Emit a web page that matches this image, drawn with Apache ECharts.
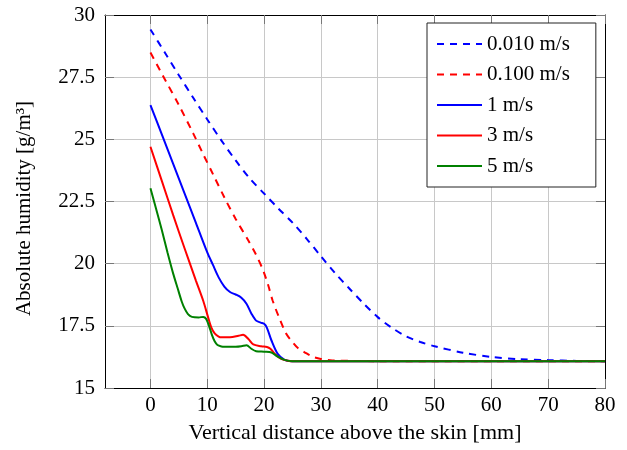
<!DOCTYPE html>
<html>
<head>
<meta charset="utf-8">
<script src="https://cdn.jsdelivr.net/npm/echarts@6/dist/echarts.min.js"></script>
<style>
  html, body { margin: 0; padding: 0; background: #ffffff; }
  #chart { width: 627px; height: 450px; }
</style>
</head>
<body>
<div id="chart"></div>
<script>
// Axis ticks
const xTicks = [0, 10, 20, 30, 40, 50, 60, 70, 80];
const yTicks = [15, 17.5, 20, 22.5, 25, 27.5, 30];

// Legend labels (air velocity)
const seriesNames = ['0.010 m/s', '0.100 m/s', '1 m/s', '3 m/s', '5 m/s'];

// 0.010 m/s
const dist010 = [0, 2.5, 5, 7.5, 10, 12.5, 15, 17.5, 20, 22.5, 25, 27.5, 30, 32.5, 35, 37.5, 40, 42.5, 45, 47.5, 50, 55, 60, 65, 70, 75, 80];
const hum010 = [29.42, 28.5, 27.58, 26.68, 25.8, 24.95, 24.15, 23.42, 22.82, 22.22, 21.65, 21.0, 20.3, 19.62, 19.0, 18.4, 17.85, 17.42, 17.08, 16.85, 16.68, 16.42, 16.25, 16.16, 16.12, 16.09, 16.08];

// 0.100 m/s
const dist100 = [0, 2.5, 5, 7.5, 9.2, 11, 13.1, 15, 17.2, 18.5, 19.8, 20.7, 21.5, 22.7, 23.9, 25, 26, 27.4, 28.5, 30, 32, 35, 40, 80];
const hum100 = [28.49, 27.43, 26.38, 25.25, 24.44, 23.6, 22.62, 21.8, 20.94, 20.4, 19.75, 19.15, 18.52, 17.8, 17.18, 16.85, 16.6, 16.4, 16.26, 16.17, 16.11, 16.09, 16.08, 16.08];

// 1 m/s
const dist1 = [0, 2, 4, 6, 8, 10, 11, 12, 13, 14, 15, 16, 16.9, 17.8, 18.6, 19.4, 20, 20.5, 21.3, 22.4, 23.6, 24.8, 30, 80];
const hum1 = [26.38, 25.2, 24.01, 22.83, 21.64, 20.45, 19.95, 19.45, 19.08, 18.86, 18.76, 18.63, 18.39, 17.98, 17.71, 17.63, 17.58, 17.42, 16.91, 16.37, 16.13, 16.08, 16.08, 16.08];

// 3 m/s
const dist3 = [0, 2, 4, 6, 8, 9.3, 10.1, 10.7, 11.3, 12, 12.5, 14, 15.5, 16.3, 17.2, 18.1, 19.5, 20.5, 21.1, 21.9, 23, 24.2, 25, 30, 80];
const hum3 = [24.7, 23.33, 21.95, 20.62, 19.32, 18.5, 17.88, 17.44, 17.2, 17.07, 17.04, 17.04, 17.1, 17.14, 16.98, 16.75, 16.68, 16.65, 16.58, 16.37, 16.17, 16.1, 16.08, 16.08, 16.08];

// 5 m/s
const dist5 = [0, 1, 2, 3, 4, 4.8, 5.5, 6, 6.6, 7.3, 8.5, 9.3, 9.8, 10.3, 10.8, 11.3, 11.8, 12.5, 13, 15, 16, 16.9, 17.8, 18.6, 20, 21.3, 22.4, 23.6, 25, 30, 80];
const hum5 = [23.03, 22.2, 21.35, 20.45, 19.6, 19.0, 18.48, 18.2, 17.97, 17.86, 17.84, 17.86, 17.78, 17.5, 17.15, 16.88, 16.73, 16.67, 16.66, 16.66, 16.68, 16.72, 16.57, 16.48, 16.46, 16.43, 16.26, 16.13, 16.08, 16.08, 16.08];

const FONT = 'Liberation Serif';
const FONT_SIZE = 21;
const pairs = (xs, ys) => xs.map((x, i) => [x, ys[i]]);

function makeSeries(name, xs, ys, color, dashed) {
  return {
    name: name,
    type: 'line',
    data: pairs(xs, ys),
    xAxisIndex: 0,
    yAxisIndex: 0,
    symbol: 'none',
    smooth: 0.3,
    lineStyle: { color: color, width: 2, type: dashed ? [7, 6] : 'solid' },
    itemStyle: { color: color },
    emphasis: { disabled: true },
    animation: false
  };
}

const tickStyle = { show: true, inside: true, length: 9, lineStyle: { color: '#777', width: 1 } };
const axisLine = { show: true, onZero: false, lineStyle: { color: '#000', width: 1 } };
const labelText = { fontFamily: FONT, fontSize: FONT_SIZE, color: '#000' };

const chart = echarts.init(document.getElementById('chart'), null, { renderer: 'canvas' });
chart.setOption({
  backgroundColor: '#ffffff',
  animation: false,
  grid: { left: 105, right: 22, top: 15, bottom: 62, containLabel: false },
  legend: {
    orient: 'vertical',
    left: 427,
    top: 23,
    data: seriesNames,
    itemWidth: 45,
    itemHeight: 14,
    itemGap: 9.5,
    padding: [10.5, 26, 10.5, 9],
    borderColor: '#222',
    borderWidth: 1,
    backgroundColor: '#ffffff',
    itemStyle: { opacity: 0 },
    textStyle: labelText,
    selectedMode: false
  },
  xAxis: [
    {
      type: 'value', position: 'bottom', min: -8, max: 80,
      name: 'Vertical distance above the skin [mm]',
      nameLocation: 'middle', nameGap: 34,
      nameTextStyle: Object.assign({}, labelText, { fontSize: 22 }),
      axisLine: axisLine,
      axisTick: Object.assign({ customValues: xTicks }, tickStyle),
      axisLabel: Object.assign({ customValues: xTicks, margin: 7 }, labelText),
      splitLine: { show: true, lineStyle: { color: '#c8c8c8', width: 1 } }
    },
    {
      type: 'value', position: 'top', min: -8, max: 80,
      axisLine: axisLine,
      axisTick: Object.assign({ customValues: xTicks }, tickStyle),
      axisLabel: { show: false, customValues: xTicks },
      splitLine: { show: false }
    }
  ],
  yAxis: [
    {
      type: 'value', position: 'left', min: yTicks[0], max: yTicks[yTicks.length - 1], interval: 2.5,
      name: 'Absolute humidity [g/m\u00B3]',
      nameLocation: 'middle', nameGap: 70,
      nameTextStyle: Object.assign({ padding: [0, 14, 0, 0] }, labelText),
      axisLine: axisLine,
      axisTick: tickStyle,
      axisLabel: Object.assign({ margin: 10 }, labelText),
      splitLine: { show: true, lineStyle: { color: '#c8c8c8', width: 1 } }
    },
    {
      type: 'value', position: 'right', min: yTicks[0], max: yTicks[yTicks.length - 1], interval: 2.5,
      axisLine: axisLine,
      axisTick: tickStyle,
      axisLabel: { show: false },
      splitLine: { show: false }
    }
  ],
  series: [
    makeSeries(seriesNames[0], dist010, hum010, '#0000ff', true),
    makeSeries(seriesNames[1], dist100, hum100, '#ff0000', true),
    makeSeries(seriesNames[2], dist1, hum1, '#0000ff', false),
    makeSeries(seriesNames[3], dist3, hum3, '#ff0000', false),
    makeSeries(seriesNames[4], dist5, hum5, '#008000', false)
  ]
});
</script>
</body>
</html>
